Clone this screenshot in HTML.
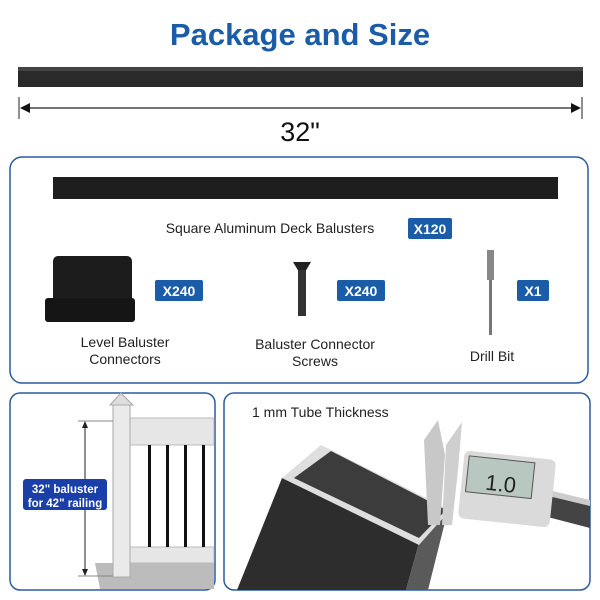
<!DOCTYPE html>
<html><head><style>
body{margin:0;background:#fff}
svg{display:block}
text{font-family:"Liberation Sans",sans-serif}
</style></head><body>
<svg width="600" height="600" viewBox="0 0 600 600">
<text x="300" y="45" text-anchor="middle" font-size="31" font-weight="bold" fill="#1a5ca8">Package and Size</text>
<rect x="18" y="67" width="565" height="20" fill="#2a2a2a"/>
<rect x="18" y="67" width="565" height="4" fill="#444"/>
<line x1="19" y1="97" x2="19" y2="119" stroke="#222"/>
<line x1="582" y1="97" x2="582" y2="119" stroke="#222"/>
<line x1="22" y1="108" x2="579" y2="108" stroke="#222" stroke-width="1.3"/>
<polygon points="20,108 30,103 30,113" fill="#111"/>
<polygon points="581,108 571,103 571,113" fill="#111"/>
<text x="300" y="141" text-anchor="middle" font-size="27" fill="#111">32"</text>

<rect x="10" y="157" width="578" height="226" rx="12" fill="#fff" stroke="#2a5ca0" stroke-width="1.5"/>
<rect x="53" y="177" width="505" height="22" fill="#1e1e1e"/>
<text x="270" y="233" text-anchor="middle" font-size="14" fill="#222">Square Aluminum Deck Balusters</text>
<rect x="408" y="218" width="44" height="21" rx="2" fill="#1a5ca8"/>
<text x="430" y="234" text-anchor="middle" font-size="14" font-weight="bold" fill="#fff">X120</text>

<rect x="53" y="256" width="79" height="48" rx="5" fill="#1c1c1c"/>
<rect x="45" y="298" width="90" height="24" rx="3" fill="#151515"/>
<rect x="155" y="280" width="48" height="21" rx="2" fill="#1a5ca8"/>
<text x="179" y="296" text-anchor="middle" font-size="14" font-weight="bold" fill="#fff">X240</text>
<text x="125" y="347" text-anchor="middle" font-size="14" fill="#222">Level Baluster</text>
<text x="125" y="364" text-anchor="middle" font-size="14" fill="#222">Connectors</text>

<polygon points="293,262 311,262 305,272 299,272" fill="#222"/>
<rect x="298" y="270" width="8" height="46" fill="#333"/>
<rect x="337" y="280" width="48" height="21" rx="2" fill="#1a5ca8"/>
<text x="361" y="296" text-anchor="middle" font-size="14" font-weight="bold" fill="#fff">X240</text>
<text x="315" y="349" text-anchor="middle" font-size="14" fill="#222">Baluster Connector</text>
<text x="315" y="366" text-anchor="middle" font-size="14" fill="#222">Screws</text>

<rect x="487" y="250" width="7" height="30" fill="#888"/>
<rect x="489" y="280" width="3" height="55" fill="#777"/>
<rect x="517" y="280" width="32" height="21" rx="2" fill="#1a5ca8"/>
<text x="533" y="296" text-anchor="middle" font-size="14" font-weight="bold" fill="#fff">X1</text>
<text x="492" y="361" text-anchor="middle" font-size="14" fill="#222">Drill Bit</text>

<rect x="10" y="393" width="205" height="197" rx="10" fill="#fff" stroke="#2a5ca0" stroke-width="1.5"/>
<polygon points="95,563 214,563 214,589 100,589" fill="#bcbcbc"/>
<rect x="130" y="418" width="84" height="27" fill="#e6e6e6" stroke="#bbb"/>
<rect x="130" y="547" width="84" height="16" fill="#e6e6e6" stroke="#bbb"/>
<rect x="148" y="445" width="3" height="102" fill="#111"/>
<rect x="166" y="445" width="3" height="102" fill="#111"/>
<rect x="184" y="445" width="3" height="102" fill="#111"/>
<rect x="202" y="445" width="3" height="102" fill="#111"/>
<rect x="113" y="405" width="17" height="172" fill="#eaeaea" stroke="#aaa"/>
<polygon points="110,405 121,393 133,405" fill="#ddd" stroke="#aaa"/>
<line x1="85" y1="422" x2="85" y2="575" stroke="#222"/>
<line x1="78" y1="421" x2="113" y2="421" stroke="#888"/>
<line x1="78" y1="576" x2="113" y2="576" stroke="#888"/>
<polygon points="85,421 82,428 88,428" fill="#222"/>
<polygon points="85,576 82,569 88,569" fill="#222"/>
<rect x="23" y="479" width="84" height="31" rx="3" fill="#1a3fa8"/>
<text x="65" y="493" text-anchor="middle" font-size="11.5" font-weight="bold" fill="#fff">32" baluster</text>
<text x="65" y="507" text-anchor="middle" font-size="11.5" font-weight="bold" fill="#fff">for 42" railing</text>

<rect x="224" y="393" width="366" height="197" rx="10" fill="#fff" stroke="#2a5ca0" stroke-width="1.5"/>
<polygon points="282,478 419,543 406,590 237,590" fill="#2d2d2d"/>
<polygon points="419,543 447,514 428,590 406,590" fill="#5a5a5a"/>
<polygon points="282,478 321,445 450,510 419,545" fill="#dedede"/>
<polygon points="294,478 331,451 446,510 419,538" fill="#3c3c3c"/>
<polygon points="424,440 438,420 445,455 440,525 428,525" fill="#c8c8c8"/>
<polygon points="446,445 462,422 458,470 452,525 442,525" fill="#cfcfcf"/>
<polygon points="540,490 590,505 590,528 540,515" fill="#444"/>
<polygon points="540,488 590,500 590,506 540,494" fill="#ccc"/>
<rect x="461" y="455" width="92" height="68" rx="6" fill="#dadada" transform="rotate(6 507 489)"/>
<rect x="466" y="460" width="66" height="36" fill="#b8c8c0" stroke="#555" transform="rotate(6 507 489)"/>
<text x="485" y="492" font-size="22" fill="#222" transform="rotate(6 507 489)">1.0</text>
<text x="252" y="417" font-size="14" fill="#222">1 mm Tube Thickness</text>
</svg>
</body></html>
